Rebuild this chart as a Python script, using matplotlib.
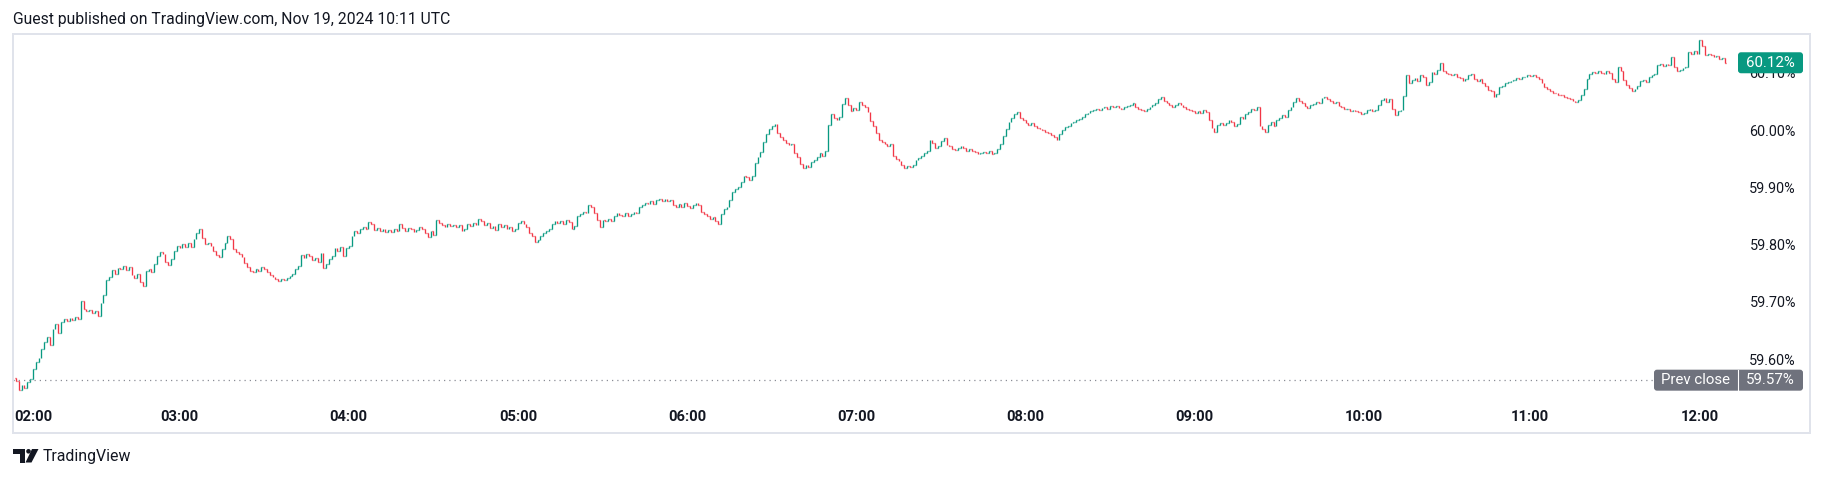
import matplotlib
matplotlib.use("Agg")
import matplotlib.pyplot as plt
from matplotlib.transforms import blended_transform_factory
from matplotlib.patches import FancyBboxPatch, Polygon, Circle, Rectangle
import numpy as np

# ---------------- data ----------------
title = "Guest published on TradingView.com, Nov 19, 2024 10:11 UTC"
first_open = 59.570
closes = [
    59.565, 59.548, 59.558, 59.552, 59.563, 59.568,
    59.586, 59.598, 59.604, 59.620, 59.632, 59.641, 59.628, 59.655, 59.664, 59.648,
    59.668, 59.672, 59.670, 59.675, 59.671, 59.676, 59.673, 59.704, 59.690, 59.686, 59.689, 59.684, 59.687, 59.678,
    59.700, 59.714, 59.740, 59.746, 59.758, 59.752, 59.762, 59.760, 59.765, 59.758, 59.763,
    59.750, 59.744, 59.752, 59.738, 59.731, 59.756, 59.760, 59.755, 59.768, 59.782, 59.790, 59.786, 59.772, 59.767, 59.778, 59.792,
    59.801, 59.797, 59.803, 59.799, 59.805, 59.798, 59.812, 59.822, 59.830, 59.814, 59.803, 59.806, 59.801,
    59.792, 59.785, 59.781, 59.795, 59.806, 59.818, 59.812, 59.795, 59.790, 59.786, 59.781, 59.770, 59.764, 59.757, 59.754, 59.760, 59.757,
    59.763, 59.760, 59.754, 59.750, 59.746, 59.742, 59.739, 59.743, 59.740, 59.745, 59.748, 59.752, 59.760, 59.766,
    59.784, 59.780, 59.786, 59.782, 59.776, 59.780, 59.773, 59.788, 59.762, 59.768, 59.778, 59.782, 59.796, 59.792, 59.799, 59.782, 59.797, 59.801,
    59.818, 59.826, 59.822, 59.830, 59.834, 59.829, 59.842, 59.838, 59.828, 59.831, 59.826, 59.829, 59.825, 59.828, 59.824, 59.830, 59.827,
    59.838, 59.832, 59.826, 59.832, 59.829, 59.824, 59.828, 59.833, 59.830, 59.822, 59.816, 59.826, 59.820, 59.846, 59.840,
    59.836, 59.834, 59.838, 59.835, 59.837, 59.833, 59.836, 59.826, 59.830, 59.838, 59.835, 59.840, 59.837, 59.848, 59.843,
    59.836, 59.840, 59.831, 59.835, 59.828, 59.838, 59.833, 59.836, 59.830, 59.834, 59.826, 59.829, 59.840, 59.844, 59.838, 59.834,
    59.822, 59.818, 59.808, 59.810, 59.818, 59.822, 59.826, 59.830, 59.838, 59.844, 59.840, 59.843, 59.839, 59.845, 59.842, 59.830, 59.835,
    59.852, 59.856, 59.860, 59.858, 59.872, 59.868, 59.858, 59.846, 59.834, 59.846, 59.843, 59.848, 59.844, 59.852, 59.858, 59.855,
    59.853, 59.857, 59.852, 59.856, 59.860, 59.857, 59.868, 59.872, 59.876, 59.874, 59.878, 59.873, 59.880, 59.883, 59.879, 59.882, 59.878, 59.881,
    59.872, 59.869, 59.873, 59.868, 59.876, 59.870, 59.867, 59.872, 59.875, 59.871, 59.860, 59.856, 59.852, 59.848, 59.851, 59.843, 59.838,
    59.856, 59.864, 59.868, 59.880, 59.895, 59.900, 59.904, 59.912, 59.922, 59.920, 59.916, 59.922, 59.945, 59.955, 59.964, 59.982, 59.996, 60.004, 60.010, 60.013,
    59.998, 59.990, 59.985, 59.980, 59.976, 59.978, 59.962, 59.956, 59.944, 59.936, 59.942, 59.938, 59.947, 59.951, 59.956, 59.962, 59.958, 59.966,
    60.012, 60.030, 60.024, 60.020, 60.026, 60.048, 60.058, 60.046, 60.036, 60.041, 60.038, 60.052, 60.047, 60.042, 60.034, 60.018, 60.010, 59.998,
    59.986, 59.982, 59.978, 59.975, 59.979, 59.958, 59.952, 59.949, 59.942, 59.936, 59.940, 59.938, 59.942, 59.950, 59.953, 59.958, 59.962, 59.966,
    59.986, 59.980, 59.972, 59.975, 59.984, 59.988, 59.976, 59.974, 59.970, 59.968, 59.971, 59.975, 59.972, 59.966, 59.970, 59.966, 59.964, 59.960, 59.963, 59.965, 59.962, 59.966, 59.960, 59.963, 59.970,
    59.978, 59.992, 60.004, 60.016, 60.024, 60.030, 60.034, 60.024, 60.020, 60.015, 60.012, 60.014, 60.009, 60.007, 60.005, 60.002, 60.000, 59.997, 59.994, 59.990, 59.986,
    59.995, 60.002, 60.008, 60.010, 60.014, 60.017, 60.020, 60.022, 60.026, 60.030, 60.033, 60.035, 60.037, 60.039, 60.038, 60.041, 60.043, 60.040, 60.044, 60.042, 60.045, 60.041, 60.039, 60.043,
    60.045, 60.047, 60.049, 60.043, 60.040, 60.038, 60.036, 60.040, 60.042, 60.046, 60.050, 60.056, 60.060, 60.054, 60.050, 60.046, 60.043, 60.046, 60.049, 60.047, 60.043, 60.040, 60.037,
    60.035, 60.033, 60.035, 60.032, 60.038, 60.034, 60.020, 60.006, 60.000, 60.012, 60.015, 60.012, 60.014, 60.020, 60.017, 60.010, 60.013, 60.026, 60.022, 60.030, 60.034, 60.040, 60.038, 60.043,
    60.010, 60.004, 60.000, 60.012, 60.016, 60.010, 60.020, 60.024, 60.028, 60.026, 60.038, 60.043, 60.052, 60.058, 60.053, 60.050, 60.044, 60.041, 60.046, 60.048, 60.051, 60.049,
    60.058, 60.061, 60.056, 60.054, 60.050, 60.052, 60.045, 60.042, 60.039, 60.040, 60.036, 60.038, 60.035, 60.034, 60.031, 60.033, 60.038, 60.040, 60.036, 60.038,
    60.047, 60.055, 60.058, 60.052, 60.056, 60.040, 60.028, 60.036, 60.038, 60.062, 60.098, 60.084, 60.090, 60.094, 60.088, 60.098, 60.096, 60.082, 60.086,
    60.104, 60.100, 60.108, 60.120, 60.105, 60.102, 60.100, 60.098, 60.101, 60.096, 60.093, 60.088, 60.092, 60.098, 60.100, 60.092, 60.089, 60.091, 60.084, 60.080,
    60.073, 60.070, 60.060, 60.066, 60.078, 60.080, 60.084, 60.086, 60.088, 60.090, 60.094, 60.092, 60.095, 60.096, 60.098, 60.097, 60.099, 60.095, 60.092,
    60.084, 60.078, 60.074, 60.071, 60.068, 60.067, 60.064, 60.063, 60.060, 60.058, 60.056, 60.054, 60.052, 60.055, 60.064, 60.075, 60.092, 60.100, 60.104, 60.102,
    60.106, 60.103, 60.101, 60.105, 60.102, 60.092, 60.087, 60.112, 60.105, 60.090, 60.082, 60.076, 60.071, 60.075, 60.080, 60.088, 60.090, 60.087, 60.095, 60.098, 60.100,
    60.116, 60.118, 60.115, 60.118, 60.116, 60.130, 60.112, 60.105, 60.108, 60.110, 60.112, 60.138, 60.136, 60.140, 60.135, 60.160, 60.150, 60.134, 60.136, 60.133, 60.130, 60.132, 60.127, 60.128, 60.120,
]
hour_labels = ["02:00", "03:00", "04:00", "05:00", "06:00", "07:00",
               "08:00", "09:00", "10:00", "11:00", "12:00"]
hour_bar_index = [6, 58, 118, 178, 238, 298, 358, 418, 478, 537, 597]
price_levels = [60.10, 60.00, 59.90, 59.80, 59.70, 59.60]
prev_close = 59.566
prev_close_text = "59.57%"

# ---------------- style ----------------
UP = "#089981"
DOWN = "#f23645"
TXT = "#131722"
FRAME = "#e0e3eb"
GRAYPILL = "#6f727d"
plt.rcParams["font.family"] = ["Roboto", "DejaVu Sans"]

W, H = 1823, 478
fig = plt.figure(figsize=(W / 100, H / 100), dpi=100)
fig.patch.set_facecolor("white")
L, R, T, B = 13, 1810, 34, 433
ax = fig.add_axes([L / W, 1 - B / H, (R - L) / W, (B - T) / H])
ax.set_xlim(-1.06, 636.2)
ax.set_ylim(59.4738, 60.1702)
ax.set_xticks([])
ax.set_yticks([])
for s in ax.spines.values():
    s.set_color(FRAME)
    s.set_linewidth(1.4)

# bars (OHLC, open = previous close)
c = np.array(closes)
o = np.concatenate([[first_open], c[:-1]])
x = np.arange(len(c))
hi = np.maximum(o, c)
lo = np.minimum(o, c)
cols = np.where(c >= o, UP, DOWN)
lw = 0.95
ax.vlines(x, lo, hi, colors=cols, linewidth=lw)
ax.hlines(o, x - 0.3, x, colors=cols, linewidth=lw)
ax.hlines(c, x, x + 0.3, colors=cols, linewidth=lw)

# prev close dotted line
ax.axhline(prev_close, xmin=0, xmax=0.92, color="#8a8d96", linewidth=0.9,
           linestyle=(0, (1, 3.2)))

# price scale labels
ty = blended_transform_factory(ax.transAxes, ax.transData)
for v in price_levels:
    ax.text(0.9922, v, f"{v:.2f}%", transform=ty, ha="right", va="center",
            fontsize=10.4, color=TXT)

# time labels
tx = blended_transform_factory(ax.transData, ax.transAxes)
for i, lab in zip(hour_bar_index, hour_labels):
    ax.text(i, 0.040, lab, transform=tx, ha="center", va="center",
            fontsize=10.6, fontweight="bold", color=TXT)

# ---------------- overlay in pixel coords ----------------
ov = fig.add_axes([0, 0, 1, 1], zorder=5)
ov.set_xlim(0, W)
ov.set_ylim(H, 0)
ov.axis("off")


def ypix(v):
    return H - ax.transData.transform((0, v))[1]


ov.text(13, 19, title, ha="left", va="center", fontsize=11.3, color=TXT)

# last price pill
yl = ypix(closes[-1])
ov.add_patch(FancyBboxPatch((1738, yl - 10.5), 65, 21,
                            boxstyle="round,pad=0,rounding_size=3",
                            fc=UP, ec="none"))
ov.text(1770.5, yl, f"{closes[-1]:.2f}%", ha="center", va="center",
        fontsize=10.8, color="white")

# prev close pill
yp = ypix(prev_close)
ov.add_patch(FancyBboxPatch((1654, yp - 10.5), 149, 21,
                            boxstyle="round,pad=0,rounding_size=3",
                            fc=GRAYPILL, ec="none"))
ov.plot([1738, 1738], [yp - 10.5, yp + 10.5], color="white", linewidth=0.8)
ov.text(1695.5, yp, "Prev close", ha="center", va="center",
        fontsize=10.8, color="white")
ov.text(1770.5, yp, prev_close_text, ha="center", va="center",
        fontsize=10.8, color="white")

# TradingView logo
ov.add_patch(Rectangle((13, 449), 12, 4.5, fc=TXT, ec="none"))
ov.add_patch(Rectangle((19.5, 449), 5.5, 13.5, fc=TXT, ec="none"))
ov.add_patch(Circle((28.5, 451.3), 2.3, fc=TXT, ec="none"))
ov.add_patch(Polygon([[32, 449], [38.5, 449], [31.5, 462.5], [25.5, 462.5]],
                     closed=True, fc=TXT, ec="none"))
ov.text(43, 456, "TradingView", ha="left", va="center", fontsize=11.4,
        color=TXT)

fig.savefig("out.png", dpi=100, facecolor="white")
